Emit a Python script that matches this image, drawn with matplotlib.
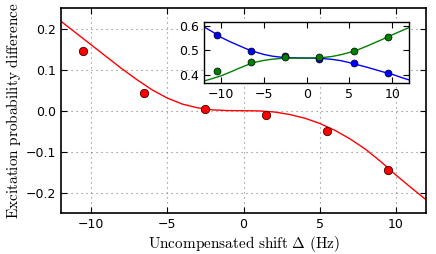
import matplotlib
matplotlib.use("Agg")
import matplotlib.pyplot as plt

plt.rcParams['mathtext.fontset'] = 'cm'
plt.rcParams['font.family'] = ['DejaVu Sans']

# measured points
x_pts = [-10.5, -6.5, -2.5, 1.5, 5.5, 9.5]
diff_pts = [0.145, 0.044, 0.004, -0.010, -0.049, -0.145]
blue_pts = [0.563, 0.497, 0.479, 0.464, 0.449, 0.410]
green_pts = [0.417, 0.453, 0.474, 0.472, 0.497, 0.555]

# fitted curves
x_curve = [-12, -11, -10, -9, -8, -7, -6, -5, -4, -3, -2, -1, 0,
           1, 2, 3, 4, 5, 6, 7, 8, 9, 10, 11, 12]
diff_curve = [0.219, 0.190, 0.161, 0.132, 0.103, 0.076, 0.051, 0.031, 0.016,
              0.007, 0.002, 0.0003, 0.0, -0.0005, -0.003, -0.009, -0.018,
              -0.031, -0.048, -0.069, -0.094, -0.124, -0.157, -0.188, -0.218]
blue_curve = [0.595, 0.575, 0.553, 0.536, 0.521, 0.506, 0.494, 0.484, 0.477,
              0.473, 0.471, 0.470, 0.4695, 0.469, 0.467, 0.464, 0.459, 0.451,
              0.442, 0.433, 0.423, 0.413, 0.404, 0.392, 0.381]
green_curve = [0.377, 0.387, 0.398, 0.412, 0.427, 0.441, 0.453, 0.460, 0.465,
               0.468, 0.469, 0.4695, 0.4695, 0.470, 0.472, 0.476, 0.483, 0.492,
               0.503, 0.517, 0.532, 0.547, 0.563, 0.578, 0.593]

main_xticks = [-10, -5, 0, 5, 10]
main_yticks = [-0.2, -0.1, 0.0, 0.1, 0.2]
inset_yticks = [0.4, 0.5, 0.6]

fig = plt.figure(figsize=(4.36, 2.54), dpi=100)
ax = fig.add_axes([0.1388, 0.1606, 0.8394, 0.807])
ax.plot(x_curve, diff_curve, color='red', lw=1.0, zorder=2)
ax.plot(x_pts, diff_pts, 'o', color='red', mec='#400000', mew=0.6, ms=6, zorder=3)
ax.set_xlim(-12, 12)
ax.set_ylim(-0.25, 0.25)
ax.set_xticks(main_xticks)
ax.set_yticks(main_yticks)
ax.set_yticklabels(['\u22120.2', '\u22120.1', '0.0', '0.1', '0.2'])
ax.set_xticklabels(['\u221210', '\u22125', '0', '5', '10'])
ax.grid(True, linestyle=(0, (1, 3.5)), color='0.5', lw=0.8)
ax.tick_params(direction='in', top=True, right=True, labelsize=9, length=4, width=0.8)
for s in ax.spines.values():
    s.set_linewidth(1.2)
ax.set_xlabel(r'$\mathrm{Uncompensated\ shift\ \Delta\ (Hz)}$', fontsize=11, labelpad=2)
ax.set_ylabel(r'$\mathrm{Excitation\ probability\ difference}$', fontsize=11, labelpad=2)

ins = fig.add_axes([0.4679, 0.6713, 0.4709, 0.2433])
ins.plot(x_curve, blue_curve, color='blue', lw=1.0, zorder=2)
ins.plot(x_curve, green_curve, color='green', lw=1.0, zorder=2)
ins.plot(x_pts, blue_pts, 'o', color='blue', mec='black', mew=0.5, ms=5, zorder=3)
ins.plot(x_pts, green_pts, 'o', color='green', mec='black', mew=0.5, ms=5, zorder=3)
ins.set_xlim(-12, 12)
ins.set_ylim(0.367, 0.616)
ins.set_xticks(main_xticks)
ins.set_xticklabels(['\u221210', '\u22125', '0', '5', '10'])
ins.set_yticks(inset_yticks)
ins.tick_params(direction='in', top=True, right=True, labelsize=9, length=4, width=0.8)
for s in ins.spines.values():
    s.set_linewidth(1.0)

fig.savefig('out.png', dpi=100)
